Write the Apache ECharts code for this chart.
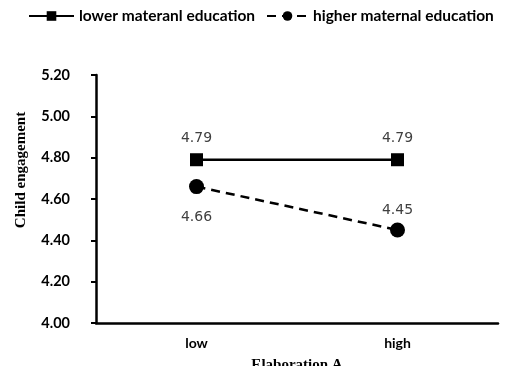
<!DOCTYPE html>
<html><head><meta charset="utf-8">
<script src="https://cdn.jsdelivr.net/npm/echarts@6/dist/echarts.min.js"></script>
<style>html,body{margin:0;padding:0;background:#fff}#c{width:505px;height:366px}</style>
</head><body><div id="c"></div>
<script>
const categories = ['low', 'high'];
const lowerEdu = [4.79, 4.79];
const higherEdu = [4.66, 4.45];
const seriesNames = ['lower materanl education', 'higher maternal education'];
const yTicks = { min: 4.0, max: 5.2, interval: 0.2 };

const chart = echarts.init(document.getElementById('c'));
const lblFont = { fontFamily: 'DejaVu Sans', fontSize: 14, color: '#404040' };
chart.setOption({
  animation: false,
  legend: [
    { data: [seriesNames[0]], left: 28, top: 8, padding: 0, itemWidth: 45, itemHeight: 12,
      textStyle: { fontFamily: 'Lato', fontWeight: 'bold', fontSize: 15.5, color: '#000' } },
    { data: [seriesNames[1]], left: 266, top: 8, padding: 0, itemWidth: 41, itemHeight: 12,
      textStyle: { fontFamily: 'Lato', fontWeight: 'bold', fontSize: 15.5, color: '#000' } }
  ],
  grid: { left: 96, right: 7, top: 75, bottom: 43, outerBoundsMode: 'none', containLabel: false },
  xAxis: {
    type: 'category', data: categories, boundaryGap: true,
    name: 'Elaboration A', nameLocation: 'middle', nameGap: 35,
    nameTextStyle: { fontFamily: 'Liberation Serif', fontWeight: 'bold', fontSize: 15, color: '#000' },
    axisLine: { lineStyle: { color: '#000', width: 2.5 } },
    axisTick: { show: false },
    axisLabel: { margin: 13, fontFamily: 'Lato', fontWeight: 'bold', fontSize: 14, color: '#000' }
  },
  yAxis: {
    type: 'value', min: yTicks.min, max: yTicks.max, interval: yTicks.interval,
    axisLine: { show: true, lineStyle: { color: '#000', width: 2.5 } },
    axisTick: { show: true, length: 5, lineStyle: { color: '#000', width: 2 } },
    splitLine: { show: false },
    axisLabel: { margin: 26, fontFamily: 'Lato', fontWeight: 'bold', fontSize: 14.5, color: '#000',
      formatter: v => v.toFixed(2) }
  },
  graphic: [{
    type: 'text', x: 21, y: 170, rotation: Math.PI / 2, originX: 0, originY: 0,
    style: { text: 'Child engagement', fontFamily: 'Liberation Serif', fontWeight: 'bold', fontSize: 15,
      fill: '#000', textAlign: 'center', textVerticalAlign: 'middle' }
  }],
  series: [
    { name: seriesNames[0], type: 'line', data: lowerEdu, symbol: 'rect', symbolSize: 13,
      itemStyle: { color: '#000' }, lineStyle: { color: '#000', width: 2.5 },
      label: { show: true, position: 'top', distance: 8, ...lblFont } },
    { name: seriesNames[1], type: 'line', symbol: 'circle', symbolSize: 15,
      data: [
        { value: higherEdu[0], label: { position: 'bottom', distance: 16 } },
        { value: higherEdu[1], label: { position: 'top', distance: 5 } }
      ],
      itemStyle: { color: '#000' }, lineStyle: { color: '#000', width: 2.5, type: [9, 6] },
      label: { show: true, ...lblFont } }
  ]
});
</script></body></html>
